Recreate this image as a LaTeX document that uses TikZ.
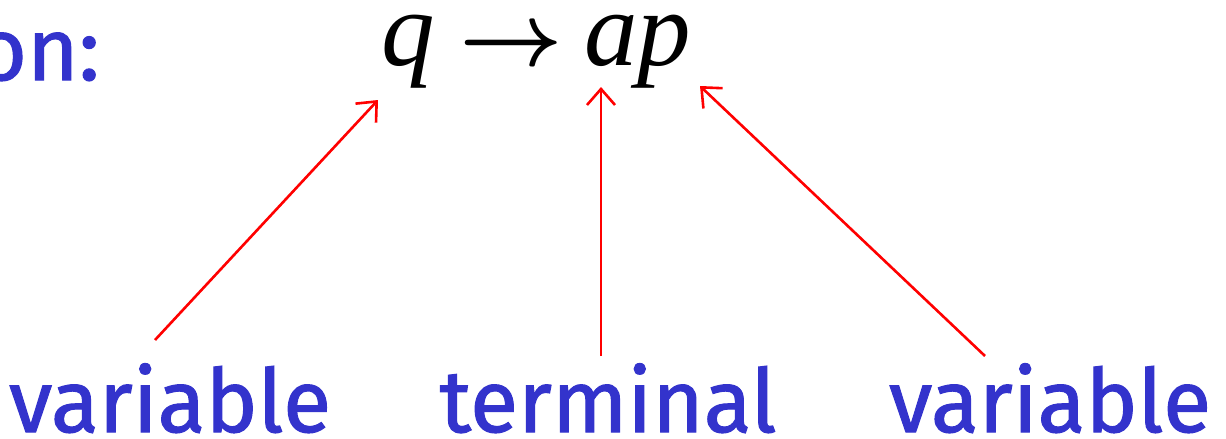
\documentclass[tikz,border=0pt]{standalone}
\usepackage{graphicx}
\usepackage{fontspec}
\setmainfont{Fira Sans}
\newfontfamily\tms{Liberation Serif}
\newfontfamily\lblfont[FakeBold=1.2]{Fira Sans}
\usetikzlibrary{arrows.meta}
\definecolor{lblue}{HTML}{3333CC}
\tikzset{
  lbl/.style={text=lblue, font=\lblfont\fontsize{88}{100}\selectfont, inner sep=0pt, anchor=base},
  sym/.style={text=black, font=\tms\itshape\fontsize{107}{120}\selectfont, inner sep=0pt, anchor=base west},
  rarr/.style={draw=red, line width=2.6pt, -{Straight Barb[length=16pt,width=28pt,line width=2.6pt]}}
}
\begin{document}
\begin{tikzpicture}[x=1pt,y=-1pt]
\useasboundingbox (0,0) rectangle (1226,439);
\node[lbl, anchor=base east] (on) at (100,80) {on:};
\node[sym] (q) at (381,65) {q};
\node[sym, font=\normalsize] (to) at (459,65) {\scalebox{9.0}{\boldmath$\rightarrow$}};
\node[sym] (ap) at (584,65) {ap};
\node[lbl] (v1) at (170,432) {variable};
\node[lbl] (t) at (608,432) {terminal};
\node[lbl] (v2) at (1050,432) {variable};
\coordinate (s1) at (155,340);
\coordinate (e1) at (378,100);
\coordinate (s2) at (601,356);
\coordinate (e2) at (601,87);
\coordinate (s3) at (985,356);
\coordinate (e3) at (700,86);
\draw[rarr] (s1) -- (e1);
\draw[rarr] (s2) -- (e2);
\draw[rarr] (s3) -- (e3);
\end{tikzpicture}
\end{document}
